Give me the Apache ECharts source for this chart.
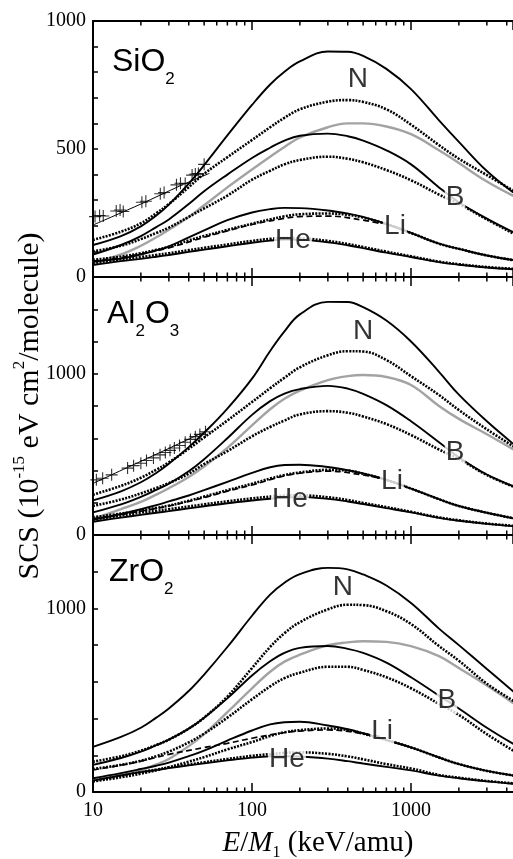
<!DOCTYPE html>
<html>
<head>
<meta charset="utf-8">
<script src="https://cdn.jsdelivr.net/npm/echarts@6/dist/echarts.min.js"></script>
<style>
  html, body { margin: 0; padding: 0; background: #fff; }
  #chart { width: 513px; height: 859px; }
</style>
</head>
<body>
<div id="chart"></div>
<script>
// Energy grid (keV/amu) shared by the calculated stopping curves
const energy = [10, 15, 20, 25, 30, 40, 50, 70, 100, 130, 160, 200, 300, 400, 500, 700, 1000, 1500, 2000, 3000, 4400];
// Shorter grid for the dashed Li curve, which stops at its label
const energyLiDash = [10, 15, 20, 30, 50, 70, 100, 150, 200, 300, 500, 650];
const xTickLabels = [10, 100, 1000];
const xMinorTicks = [20, 30, 40, 50, 60, 70, 80, 90, 200, 300, 400, 500, 600, 700, 800, 900, 2000, 3000, 4000];

// ---- SiO2 ----
const sio2NSolid  = [125, 160, 198, 240, 283, 365, 437, 553, 672, 752, 802, 842, 881, 880, 864, 813, 734, 612, 528, 414, 330];
const sio2NDot    = [145, 177, 210, 249, 285, 351, 403, 468, 535, 585, 622, 655, 685, 691, 684, 655, 595, 515, 462, 398, 337];
const sio2Gray    = [55, 88, 122, 155, 185, 234, 280, 350, 420, 470, 508, 545, 585, 600, 600, 588, 558, 495, 445, 373, 317];
const sio2BSolid  = [88, 125, 160, 195, 225, 285, 335, 400, 465, 505, 533, 552, 560, 550, 533, 495, 440, 350, 292, 228, 175];
const sio2BDot    = [100, 122, 148, 172, 193, 235, 268, 318, 380, 415, 440, 457, 470, 462, 448, 418, 378, 322, 286, 225, 170];
const sio2LiSolid = [60, 72, 88, 104, 120, 155, 182, 222, 252, 265, 270, 269, 260, 248, 235, 207, 172, 130, 110, 84, 66];
const sio2LiDot   = [67, 80, 93, 106, 118, 143, 160, 184, 208, 225, 237, 245, 248, 243, 232, 207, 172, 130, 110, 84, 66];
const sio2LiDash  = [62, 76, 90, 114, 155, 180, 205, 226, 236, 238, 222, 208];
const sio2HeSolid = [47, 62, 71, 79, 86, 98, 107, 120, 134, 142, 146, 145, 136, 124, 113, 95, 78, 58, 48, 37, 30];
const sio2HeDot   = [54, 69, 78, 86, 93, 105, 114, 127, 141, 149, 152, 151, 141, 129, 117, 99, 81, 60, 50, 39, 32];
const sio2ExpE    = [10.3, 11.0, 11.6, 14.0, 14.8, 15.5, 20.3, 21.5, 26.5, 28.0, 33.5, 35.5, 38, 42, 44, 46, 50];
const sio2ExpS    = [236, 240, 238, 258, 262, 256, 292, 296, 325, 330, 360, 366, 365, 398, 402, 404, 440];
const sio2FitE    = [10, 20, 35, 54];
const sio2FitS    = [203, 285, 355, 405];
const sio2Tags    = [['N', 464, 773], ['B', 1892, 312], ['Li', 793, 199], ['He', 181, 145]];

// ---- Al2O3 ----
const al2o3NSolid  = [215, 271, 327, 385, 442, 545, 634, 784, 970, 1141, 1263, 1368, 1446, 1445, 1413, 1330, 1200, 1012, 870, 705, 565];
const al2o3NDot    = [250, 305, 355, 405, 450, 535, 605, 710, 825, 910, 975, 1040, 1115, 1140, 1138, 1085, 985, 868, 775, 655, 550];
const al2o3Gray    = [100, 160, 205, 250, 290, 360, 425, 540, 680, 780, 845, 895, 960, 985, 992, 980, 930, 800, 720, 625, 531];
const al2o3BSolid  = [140, 190, 237, 280, 318, 395, 470, 600, 745, 830, 877, 905, 925, 908, 875, 805, 705, 575, 482, 375, 303];
const al2o3BDot    = [180, 220, 258, 292, 322, 380, 440, 520, 612, 670, 710, 748, 768, 758, 735, 688, 620, 530, 472, 372, 300];
const al2o3LiSolid = [95, 130, 160, 185, 208, 245, 278, 330, 385, 420, 434, 436, 422, 402, 382, 342, 288, 222, 180, 138, 104];
const al2o3LiDot   = [110, 133, 152, 168, 182, 212, 238, 278, 318, 350, 372, 388, 404, 400, 380, 342, 288, 222, 180, 138, 104];
const al2o3LiDash  = [100, 126, 148, 180, 232, 272, 310, 360, 383, 396, 372, 350];
const al2o3HeSolid = [82, 108, 125, 138, 148, 165, 178, 197, 214, 225, 232, 235, 224, 208, 192, 167, 140, 106, 88, 69, 55];
const al2o3HeDot   = [95, 120, 138, 150, 160, 177, 190, 209, 227, 238, 244, 246, 234, 217, 199, 173, 144, 109, 91, 71, 57];
const al2o3ExpE    = [10.5, 11.5, 13.1, 16.5, 18, 20, 21.7, 24, 26.4, 28.5, 30.5, 32.5, 35, 38, 41, 44, 47, 51];
const al2o3ExpS    = [342, 352, 373, 415, 430, 445, 462, 478, 497, 512, 525, 540, 555, 575, 593, 610, 624, 640];
const al2o3FitE    = [10, 20, 30, 49];
const al2o3FitS    = [320, 457, 537, 635];
const al2o3Tags    = [['N', 499, 1263], ['B', 1892, 510], ['Li', 759, 336], ['He', 173, 224]];

// ---- ZrO2 ----
const zro2NSolid  = [246, 300, 350, 405, 455, 550, 640, 790, 960, 1075, 1140, 1187, 1221, 1213, 1185, 1125, 1030, 890, 800, 670, 547];
const zro2NDot    = [165, 195, 225, 256, 285, 345, 405, 520, 675, 790, 865, 925, 995, 1020, 1018, 985, 915, 795, 715, 590, 497];
const zro2Gray    = [64, 95, 120, 150, 180, 250, 315, 435, 565, 655, 710, 748, 800, 815, 821, 818, 795, 740, 675, 580, 484];
const zro2BSolid  = [148, 185, 220, 255, 285, 345, 405, 510, 635, 712, 758, 785, 795, 780, 758, 705, 625, 525, 455, 350, 262];
const zro2BDot    = [125, 148, 170, 195, 220, 270, 318, 405, 505, 575, 620, 650, 682, 682, 665, 625, 565, 480, 420, 315, 225];
const zro2LiSolid = [75, 103, 125, 143, 160, 195, 225, 280, 335, 368, 380, 383, 362, 342, 320, 283, 243, 188, 152, 115, 90];
const zro2LiDot   = [58, 80, 100, 118, 135, 165, 190, 232, 272, 305, 325, 337, 346, 338, 318, 283, 243, 188, 152, 115, 90];
const zro2LiDash  = [120, 146, 168, 205, 242, 265, 293, 320, 332, 338, 318, 300];
const zro2HeSolid = [62, 90, 108, 120, 130, 145, 156, 172, 187, 194, 195, 193, 182, 168, 155, 137, 118, 89, 75, 58, 45];
const zro2HeDot   = [60, 88, 108, 122, 134, 150, 162, 180, 197, 206, 213, 216, 208, 194, 178, 152, 128, 93, 78, 60, 47];
const zro2Tags    = [['N', 373, 1115], ['B', 1683, 502], ['Li', 658, 332], ['He', 166, 179]];

const SERIF = 'Liberation Serif';
const SANS = 'Liberation Sans';

const panels = [
  { name: '{a|SiO}{b|2}', yMax: 1000, step: 100, shown: [0, 500, 1000],
    curves: [sio2NSolid, sio2NDot, sio2Gray, sio2BSolid, sio2BDot, sio2LiSolid, sio2LiDot, sio2HeSolid, sio2HeDot],
    liDash: sio2LiDash, expE: sio2ExpE, expS: sio2ExpS, fitE: sio2FitE, fitS: sio2FitS, tags: sio2Tags,
    nameX: 112, nameY: 36 },
  { name: '{a|Al}{b|2}{a|O}{b|3}', yMax: 1600, step: 200, shown: [0, 1000],
    curves: [al2o3NSolid, al2o3NDot, al2o3Gray, al2o3BSolid, al2o3BDot, al2o3LiSolid, al2o3LiDot, al2o3HeSolid, al2o3HeDot],
    liDash: al2o3LiDash, expE: al2o3ExpE, expS: al2o3ExpS, fitE: al2o3FitE, fitS: al2o3FitS, tags: al2o3Tags,
    nameX: 107, nameY: 288 },
  { name: '{a|ZrO}{b|2}', yMax: 1400, step: 200, shown: [0, 1000],
    curves: [zro2NSolid, zro2NDot, zro2Gray, zro2BSolid, zro2BDot, zro2LiSolid, zro2LiDot, zro2HeSolid, zro2HeDot],
    liDash: zro2LiDash, expE: null, expS: null, fitE: null, fitS: null, tags: zro2Tags,
    nameX: 109, nameY: 546 }
];

const SOLID = { color: '#000', width: 1.9, type: 'solid' };
const DOTTED = { color: '#000', width: 2.6, type: [2, 1.3] };
const GRAY = { color: '#a3a3a3', width: 2.4, type: 'solid' };
const DASHED = { color: '#000', width: 1.7, type: [6, 3.5] };
// order matches panel.curves
const curveStyles = [SOLID, DOTTED, GRAY, SOLID, DOTTED, SOLID, DOTTED, SOLID, DOTTED];

const gridBoxes = [
  { left: 93, top: 21, width: 420, height: 256 },
  { left: 93, top: 277, width: 420, height: 258 },
  { left: 93, top: 535, width: 420, height: 257 }
];

const X_MAX = 4380;
const grid = [], xAxis = [], yAxis = [], series = [], graphic = [];

panels.forEach((p, i) => {
  grid.push(Object.assign({ containLabel: false }, gridBoxes[i]));
  const baseX = {
    type: 'log', logBase: 10, gridIndex: i, min: 10, max: X_MAX,
    axisLine: { show: true, onZero: false, lineStyle: { color: '#000', width: 2 } },
    axisTick: { show: true, inside: true, length: 9, lineStyle: { color: '#000', width: 1.5 } },
    splitLine: { show: false }, minorTick: { show: false }
  };
  xAxis.push(Object.assign({}, baseX, {
    position: 'bottom',
    axisLabel: {
      show: i === 2, showMaxLabel: false, margin: 9, color: '#000',
      fontFamily: SERIF, fontSize: 20,
      formatter: v => (xTickLabels.includes(Math.round(v)) ? String(Math.round(v)) : '')
    }
  }));
  xAxis.push(Object.assign({}, baseX, { position: 'top', axisLabel: { show: false } }));

  yAxis.push({
    type: 'value', gridIndex: i, min: 0, max: p.yMax, interval: p.step,
    axisLine: { show: true, lineStyle: { color: '#000', width: 2 } },
    axisTick: { show: true, inside: true, length: 5, lineStyle: { color: '#000', width: 1.5 } },
    splitLine: { show: false },
    axisLabel: {
      margin: 7, color: '#000', fontFamily: SERIF, fontSize: 20,
      formatter: v => (p.shown.includes(v) ? String(v) : '')
    }
  });

  const xb = 2 * i;
  const yMax = p.yMax;

  // minor decade ticks on the bottom and top frame lines
  series.push({
    type: 'custom', xAxisIndex: xb, yAxisIndex: i, silent: true, z: 6,
    data: xMinorTicks.map(t => [t, 0]),
    renderItem: (params, api) => {
      const x = api.value(0);
      const b = api.coord([x, 0]);
      const t = api.coord([x, yMax]);
      const st = { stroke: '#000', lineWidth: 1.5 };
      return {
        type: 'group',
        children: [
          { type: 'line', shape: { x1: b[0], y1: b[1], x2: b[0], y2: b[1] - 4.5 }, style: st },
          { type: 'line', shape: { x1: t[0], y1: t[1], x2: t[0], y2: t[1] + 4.5 }, style: st }
        ]
      };
    }
  });

  p.curves.forEach((vals, k) => {
    series.push({
      type: 'line', xAxisIndex: xb, yAxisIndex: i, symbol: 'none', smooth: 0.4,
      silent: true, z: k === 2 ? 2 : 3,
      lineStyle: curveStyles[k],
      data: energy.map((e, j) => [e, vals[j]])
    });
  });

  series.push({
    type: 'line', xAxisIndex: xb, yAxisIndex: i, symbol: 'none', smooth: 0.4, silent: true, z: 3,
    lineStyle: DASHED,
    data: energyLiDash.map((e, j) => [e, p.liDash[j]])
  });

  if (p.expE) {
    series.push({
      type: 'line', xAxisIndex: xb, yAxisIndex: i, symbol: 'none', smooth: 0.3, silent: true, z: 3,
      lineStyle: { color: '#000', width: 1 },
      data: p.fitE.map((e, j) => [e, p.fitS[j]])
    });
    series.push({
      type: 'scatter', xAxisIndex: xb, yAxisIndex: i, silent: true, z: 4,
      symbol: 'path://M0,6L12,6M6,0L6,12', symbolSize: 12,
      itemStyle: { color: 'rgba(0,0,0,0)', borderColor: '#000', borderWidth: 1.1 },
      data: p.expE.map((e, j) => [e, p.expS[j]])
    });
  }

  // curve tags (N, B, Li, He) with a white box that breaks the lines
  series.push({
    type: 'scatter', xAxisIndex: xb, yAxisIndex: i, silent: true, z: 8,
    symbolSize: 0,
    data: p.tags.map(t => ({ name: t[0], value: [t[1], t[2]] })),
    label: {
      show: true, position: 'inside', formatter: '{b}',
      fontFamily: SANS, fontSize: 28, color: '#000',
      backgroundColor: '#fff', padding: [0, 1, 0, 1], lineHeight: 28
    }
  });

  graphic.push({
    type: 'text', x: p.nameX, y: p.nameY, z: 20, silent: true,
    style: {
      text: p.name, align: 'left', verticalAlign: 'top',
      rich: {
        a: { fontFamily: SANS, fontSize: 32, lineHeight: 52, verticalAlign: 'middle', fill: '#000' },
        b: { fontFamily: SANS, fontSize: 17, lineHeight: 14, verticalAlign: 'bottom', fill: '#000' }
      }
    }
  });
});

// axis titles
graphic.push({
  type: 'text', x: 318, y: 843, z: 20, silent: true,
  style: {
    text: '{i|E}{a|/}{i|M}{b|1}{a| (keV/amu)}', align: 'center', verticalAlign: 'middle',
    rich: {
      a: { fontFamily: SERIF, fontSize: 29, lineHeight: 36, verticalAlign: 'middle', fill: '#000' },
      i: { fontFamily: SERIF, fontStyle: 'italic', fontSize: 29, lineHeight: 36, verticalAlign: 'middle', fill: '#000' },
      b: { fontFamily: SERIF, fontSize: 16, lineHeight: 14, verticalAlign: 'bottom', fill: '#000' }
    }
  }
});
graphic.push({
  type: 'text', x: 30, y: 406, rotation: Math.PI / 2, z: 20, silent: true,
  style: {
    text: '{a|SCS (10}{s|-15}{a| eV cm}{s|2}{a|/molecule)}', align: 'center', verticalAlign: 'middle',
    rich: {
      a: { fontFamily: SERIF, fontSize: 30, lineHeight: 38, verticalAlign: 'middle', fill: '#000' },
      s: { fontFamily: SERIF, fontSize: 17, lineHeight: 18, verticalAlign: 'top', fill: '#000' }
    }
  }
});

const chart = echarts.init(document.getElementById('chart'), null, { renderer: 'canvas' });
chart.setOption({
  animation: false,
  backgroundColor: '#fff',
  grid, xAxis, yAxis, series, graphic
});
</script>
</body>
</html>
